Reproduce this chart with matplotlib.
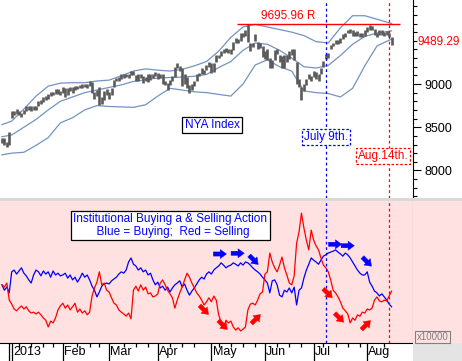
import numpy as np
import pandas as pd
import matplotlib
matplotlib.use('Agg')
import matplotlib.pyplot as plt
from matplotlib.patches import Rectangle
from matplotlib.transforms import offset_copy, blended_transform_factory

plt.rcParams['font.family'] = ['Liberation Sans', 'DejaVu Sans']

# trading days, Dec 26 2012 .. Aug 15 2013
holidays = ['2013-01-01', '2013-01-21', '2013-02-18', '2013-03-29', '2013-05-27', '2013-07-04']
dates = pd.bdate_range('2012-12-26', '2013-08-15')
dates = dates[~dates.isin(pd.to_datetime(holidays))]

nya_high = [8380, 8370, 8330, 8450,
            8690, 8690, 8710, 8690, 8670, 8700, 8745, 8740, 8740, 8750, 8745, 8800, 8810, 8850, 8860, 8880, 8910, 8910, 8940, 8945, 8920,
            8970, 8950, 8950, 8960, 8960, 8980, 8975, 8990, 8995, 9000, 8995, 9030, 9020, 8910, 8930, 8960, 8850, 8920, 8940,
            8910, 8950, 9050, 9070, 9080, 9110, 9115, 9115, 9120, 9155, 9150, 9100, 9110, 9120, 9090, 9080, 9110, 9120, 9115, 9135,
            9130, 9120, 9110, 9040, 9010, 9045, 9090, 9200, 9240, 9210, 9190, 9110, 9080, 8990, 9000, 9040, 9120, 9130, 9180, 9165, 9220, 9250,
            9240, 9240, 9340, 9340, 9380, 9410, 9420, 9410, 9400, 9490, 9530, 9520, 9590, 9590, 9620, 9696, 9470, 9480, 9580, 9490, 9480, 9440,
            9380, 9400, 9300, 9280, 9390, 9410, 9330, 9320, 9330, 9330, 9380, 9410, 9410, 9250, 9060, 8970, 9000, 9060, 9120, 9090,
            9150, 9140, 9120, 9190, 9270, 9350, 9360, 9450, 9480, 9510, 9510, 9530, 9580, 9590, 9630, 9640, 9620, 9600, 9610, 9590, 9590, 9620,
            9660, 9680, 9670, 9640, 9590, 9630, 9620, 9600, 9610, 9590, 9545]
nya_low = [8320, 8300, 8270, 8290,
           8610, 8640, 8650, 8640, 8620, 8655, 8690, 8700, 8690, 8700, 8700, 8740, 8770, 8790, 8820, 8830, 8860, 8870, 8880, 8890, 8870,
           8900, 8850, 8870, 8920, 8900, 8930, 8940, 8950, 8950, 8960, 8950, 8980, 8900, 8830, 8860, 8760, 8770, 8820, 8870,
           8830, 8870, 8960, 9030, 9040, 9060, 9070, 9080, 9070, 9100, 9100, 9040, 9040, 9070, 9010, 9030, 9020, 9050, 9070, 9090,
           9060, 9070, 9000, 8990, 8930, 8990, 9030, 9080, 9190, 9150, 8980, 9000, 8950, 8900, 8930, 8980, 9030, 9090, 9120, 9120, 9160, 9200,
           9130, 9140, 9260, 9300, 9320, 9360, 9370, 9360, 9350, 9390, 9470, 9470, 9500, 9540, 9560, 9490, 9380, 9430, 9500, 9400, 9420, 9310,
           9290, 9280, 9190, 9180, 9280, 9350, 9250, 9190, 9180, 9260, 9290, 9340, 9280, 9000, 8960, 8815, 8920, 8990, 9060, 9030,
           9080, 9060, 9040, 9110, 9200, 9290, 9300, 9410, 9440, 9460, 9460, 9480, 9520, 9540, 9590, 9590, 9560, 9550, 9560, 9540, 9540, 9550,
           9600, 9630, 9620, 9570, 9540, 9570, 9570, 9560, 9570, 9540, 9450]
last_close = 9489.29
resistance = 9695.96

# bollinger bands, read every 5 trading days
band_day = [0, 4, 9, 14, 19, 24, 29, 34, 39, 44, 49, 54, 59, 64, 69, 74, 79, 84, 89, 94, 99,
            104, 109, 114, 119, 124, 129, 134, 139, 144, 149, 154, 160]
band_upper = [8530, 8570, 8710, 8860, 8975, 9010, 9015, 9015, 9035, 9045, 9095, 9150, 9175, 9160, 9150, 9170, 9210,
              9260, 9380, 9540, 9660, 9690, 9660, 9630, 9600, 9560, 9490, 9475, 9650, 9790, 9790, 9750, 9700]
band_mid = [8390, 8410, 8500, 8590, 8700, 8800, 8850, 8900, 8930, 8960, 8990, 9030, 9050, 9070, 9075, 9080, 9090,
            9110, 9190, 9260, 9390, 9475, 9460, 9390, 9300, 9200, 9185, 9215, 9330, 9460, 9550, 9590, 9615]
band_lower = [8180, 8200, 8210, 8290, 8380, 8550, 8610, 8700, 8750, 8740, 8735, 8730, 8760, 8860, 8950, 8930, 8910,
              8900, 8880, 8860, 9000, 9220, 9280, 9200, 9150, 8920, 8900, 8890, 8850, 8950, 9210, 9440, 9520]

buying = [36400, 35200, 35900, 34600,
          39300, 39700, 38800, 39500, 40200, 39000, 38400, 37500, 36800, 38600, 39700, 39300, 38400, 39500, 38800, 39300, 38100, 39500, 38600, 39000, 38400,
          38600, 39000, 37900, 38600, 37500, 38100, 37000, 37900, 39000, 38100, 38600, 37500, 36100, 35200, 33700, 34800, 36100, 36600, 36800,
          36600, 37300, 37700, 38100, 38800, 39300, 39000, 39700, 41500, 42400, 41000, 40600, 39700, 40200, 39300, 39700, 38600, 39000, 37500, 36400,
          37000, 35700, 36100, 35200, 35900, 34800, 35700, 36400, 36800, 37300, 35900, 36600, 35200, 34100, 35000, 35700, 36600, 37500, 38100, 37700, 38800, 39300,
          38800, 39700, 40200, 40600, 41300, 40800, 40200, 40600, 40800, 41300, 41000, 40600, 41300, 40800, 41500, 41300, 40800, 40200, 39700, 39300, 38800, 38100,
          37500, 36800, 34600, 37300, 37500, 36400, 34100, 33700, 35200, 34800, 35700, 34600, 35900, 31900, 35200, 35700, 37900, 39700, 41000, 42400,
          41900, 41500, 41000, 41900, 42800, 43100, 43500, 43700, 43900, 44200, 43700, 43300, 42800, 43500, 43100, 42400, 41500, 40600, 39700, 39000, 38600, 38600,
          39300, 37000, 36100, 35000, 34600, 33900, 34400, 33700, 33000, 32100, 31500]
selling = [36400, 35900, 36800, 33000,
           32100, 31000, 30600, 31200, 31700, 31000, 31500, 30600, 30100, 30300, 29900, 30300, 29700, 29000, 28500, 27000, 28300, 27900, 29000, 30800, 31700,
           32300, 31200, 31900, 30800, 31500, 32300, 30300, 31000, 30100, 30600, 29700, 30300, 33900, 35700, 37000, 39300, 36400, 36800, 35200,
           34800, 33500, 32300, 31900, 30800, 30300, 29900, 29400, 30100, 28800, 35200, 36100, 35000, 36400, 35200, 35900, 34400, 34600, 33700, 33900,
           34400, 36800, 37500, 36400, 35200, 34400, 33500, 31200, 33000, 34600, 35900, 37500, 39000, 38100, 36800, 35700, 34600, 33900, 33000, 31900, 32600, 33500,
           32600, 33900, 33000, 29700, 28100, 26800, 28500, 27900, 28300, 27000, 26300, 26800, 26100, 26500, 27000, 30800, 32100, 32300, 31900, 33000, 34400, 34800,
           38800, 39300, 43500, 41500, 40200, 39300, 40800, 42600, 40200, 38600, 36800, 36400, 38400, 45700, 48200, 52400, 49100, 46400, 44200, 48600,
           46400, 45100, 44200, 42400, 40800, 40200, 39300, 37500, 35200, 34600, 33700, 32600, 31200, 30600, 29900, 27900, 29000, 28500, 29700, 29400, 30300, 30100,
           31000, 30800, 31200, 33000, 33700, 32800, 32600, 33000, 32800, 33900, 35000]

month_labels = ['2013', 'Feb', 'Mar', 'Apr', 'May', 'Jun', 'Jul', 'Aug']

# arrows: (day position, value, direction, colour)
arrows = [(89.5, 43280, 'r', 'blue'), (96.8, 43440, 'r', 'blue'), (136.8, 45450, 'r', 'blue'),
          (142.0, 45130, 'r', 'blue'), (103.4, 41940, 'dr', 'blue'), (149.9, 41560, 'dr', 'blue'),
          (83.0, 30780, 'dr', 'red'), (90.7, 27430, 'dr', 'red'), (133.8, 34510, 'dr', 'red'),
          (138.5, 29060, 'dr', 'red'), (104.3, 28770, 'ur', 'red'), (149.5, 27430, 'ur', 'red')]

pink = '#ffe1e1'
W, H = 462, 361
xpos = np.arange(len(dates))
k_jul9 = int(np.where(dates == pd.Timestamp('2013-07-09'))[0][0])
k_aug14 = int(np.where(dates == pd.Timestamp('2013-08-14'))[0][0])
xlim = (-0.8, 168.8)


def box(x0, y0, x1, y1):
    return [x0 / W, 1 - y1 / H, (x1 - x0) / W, (y1 - y0) / H]


fig = plt.figure(figsize=(W / 100, H / 100), dpi=100)
fig.patches.append(Rectangle((0, 1 - 201 / H), 1, 3 / H, transform=fig.transFigure,
                             fc='#d9d9d9', ec='none', zorder=0))
fig.patches.append(Rectangle((413 / W, 1 - 343 / H), 49 / W, 142 / H, transform=fig.transFigure,
                             fc=pink, ec='none', zorder=0))
fig.patches.append(Rectangle((413 / W, 0), 49 / W, 18 / H, transform=fig.transFigure,
                             fc='#e4e4e4', ec='none', zorder=0))

# ---------------- top panel ----------------
ax1 = fig.add_axes(box(0, 0, 413, 198))
ax1.set_xlim(*xlim)
ax1.set_ylim(7681, 9972)
for s in ['top', 'left']:
    ax1.spines[s].set_visible(False)
ax1.spines['bottom'].set_color('#cccccc')
ax1.spines['right'].set_color('black')
ax1.yaxis.tick_right()
ax1.set_xticks([])
ax1.set_yticks([8000, 8500, 9000])
ax1.set_yticks(np.arange(7700, 10000, 100), minor=True)
ax1.tick_params(axis='y', which='major', length=5.5, width=0.8, labelsize=9, pad=3)
ax1.tick_params(axis='y', which='minor', length=2.8, width=0.8)

ax1.plot(band_day, band_upper, color='#7393c3', lw=0.9)
ax1.plot(band_day, band_mid, color='#7393c3', lw=0.9)
ax1.plot(band_day, band_lower, color='#7393c3', lw=0.9)
ax1.vlines(xpos, nya_low, nya_high, color='#5a5a5a', lw=1.9)

ax1.hlines(resistance, 96.5, 163.5, color='red', lw=1.0)
ax1.annotate('9695.96 R', xy=(117.5, resistance), xytext=(0, 1.0), textcoords='offset points',
             ha='center', va='bottom', color='red', fontsize=8.5)
ax1.text(1.012, last_close, '9489.29', transform=blended_transform_factory(ax1.transAxes, ax1.transData),
         ha='left', va='center', color='red', fontsize=8.5, clip_on=False)

ax1.text(86.3, 8526, 'NYA Index', ha='center', va='center', color='blue', fontsize=8.5,
         bbox=dict(boxstyle='square,pad=0.2', fc='white', ec='black', lw=0.9), zorder=5)
ax1.text(k_jul9, 8387, 'July 9th.', ha='center', va='center', color='blue', fontsize=8.5,
         bbox=dict(boxstyle='square,pad=0.15', fc='white', ec='blue', lw=0.9, ls=(0, (2, 1.5))), zorder=5)
ax1.text(156.5, 8167, 'Aug.14th.', ha='center', va='center', color='red', fontsize=8.5,
         bbox=dict(boxstyle='square,pad=0.15', fc='white', ec='red', lw=0.9, ls=(0, (2, 1.5))), zorder=5)

# ---------------- bottom panel ----------------
ax2 = fig.add_axes(box(0, 201, 413, 343))
ax2.set_facecolor(pink)
ax2.set_xlim(*xlim)
ax2.set_ylim(23416, 55110)
for s in ['top', 'left']:
    ax2.spines[s].set_visible(False)
ax2.spines['right'].set_color('#808080')
ax2.spines['bottom'].set_color('black')
ax2.yaxis.tick_right()
ax2.set_yticks(np.arange(30000, 50001, 5000))
ax2.set_yticks(np.arange(24000, 55001, 1000), minor=True)
ax2.tick_params(axis='y', which='major', length=5, width=0.8, colors='#808080', labelsize=9, pad=3)
ax2.tick_params(axis='y', which='minor', length=2.5, width=0.8, colors='#808080')

month_pos = [3] + [int(np.where(dates.month == m)[0][0]) for m in range(1, 9)]
week_start = [k for k in range(1, len(dates))
              if dates[k].isocalendar()[1] != dates[k - 1].isocalendar()[1]
              and min(abs(k - m) for m in month_pos) > 2]
ax2.set_xticks(month_pos)
ax2.set_xticklabels([])
ax2.set_xticks(week_start, minor=True)
ax2.tick_params(axis='x', which='major', length=13, width=0.9, color='black')
ax2.tick_params(axis='x', which='minor', length=3, width=0.9, color='black')
xlab_tr = blended_transform_factory(ax2.transData, ax2.transAxes)
for m, lab in zip(month_pos[1:], month_labels):
    ax2.text(m + 0.5, -0.066, lab, transform=xlab_tr, ha='left', va='center', fontsize=9, clip_on=False)

ax2.plot(xpos, buying, color='blue', lw=0.9)
ax2.plot(xpos, selling, color='red', lw=0.9)

ax2.text(0.412, 0.827, 'Institutional Buying a & Selling Action\n  Blue = Buying;  Red = Selling',
         transform=ax2.transAxes, ha='center', va='center', color='blue', fontsize=8.5, linespacing=1.1,
         bbox=dict(boxstyle='square,pad=0.2', fc='white', ec='black', lw=0.9), zorder=5)

for k, v, d, c in arrows:
    dx, dy = {'r': (9.5, 0), 'dr': (6.5, -6.5), 'ur': (6.5, 6.5)}[d]
    head = offset_copy(ax2.transData, fig=fig, x=dx / 2, y=dy / 2, units='points')
    tail = offset_copy(ax2.transData, fig=fig, x=-dx / 2, y=-dy / 2, units='points')
    ax2.annotate('', xy=(k, v), xycoords=head, xytext=(k, v), textcoords=tail,
                 arrowprops=dict(arrowstyle='simple,head_length=0.45,head_width=0.65,tail_width=0.3',
                                 fc=c, ec=c, lw=0.3, shrinkA=0, shrinkB=0), zorder=6)

fig.text(432.5 / W, 1 - 337 / H, 'x10000', ha='center', va='center', color='#808080', fontsize=7,
         bbox=dict(boxstyle='square,pad=0.15', fc=pink, ec='#808080', lw=0.8))

# event lines across both panels
for ax in (ax1, ax2):
    ax.axvline(k_jul9, color='blue', lw=0.9, ls=(0, (2.2, 2.2)), zorder=4)
    ax.axvline(k_aug14, color='red', lw=0.9, ls=(0, (2.2, 2.2)), zorder=4)

fig.savefig('out.png', dpi=100)
